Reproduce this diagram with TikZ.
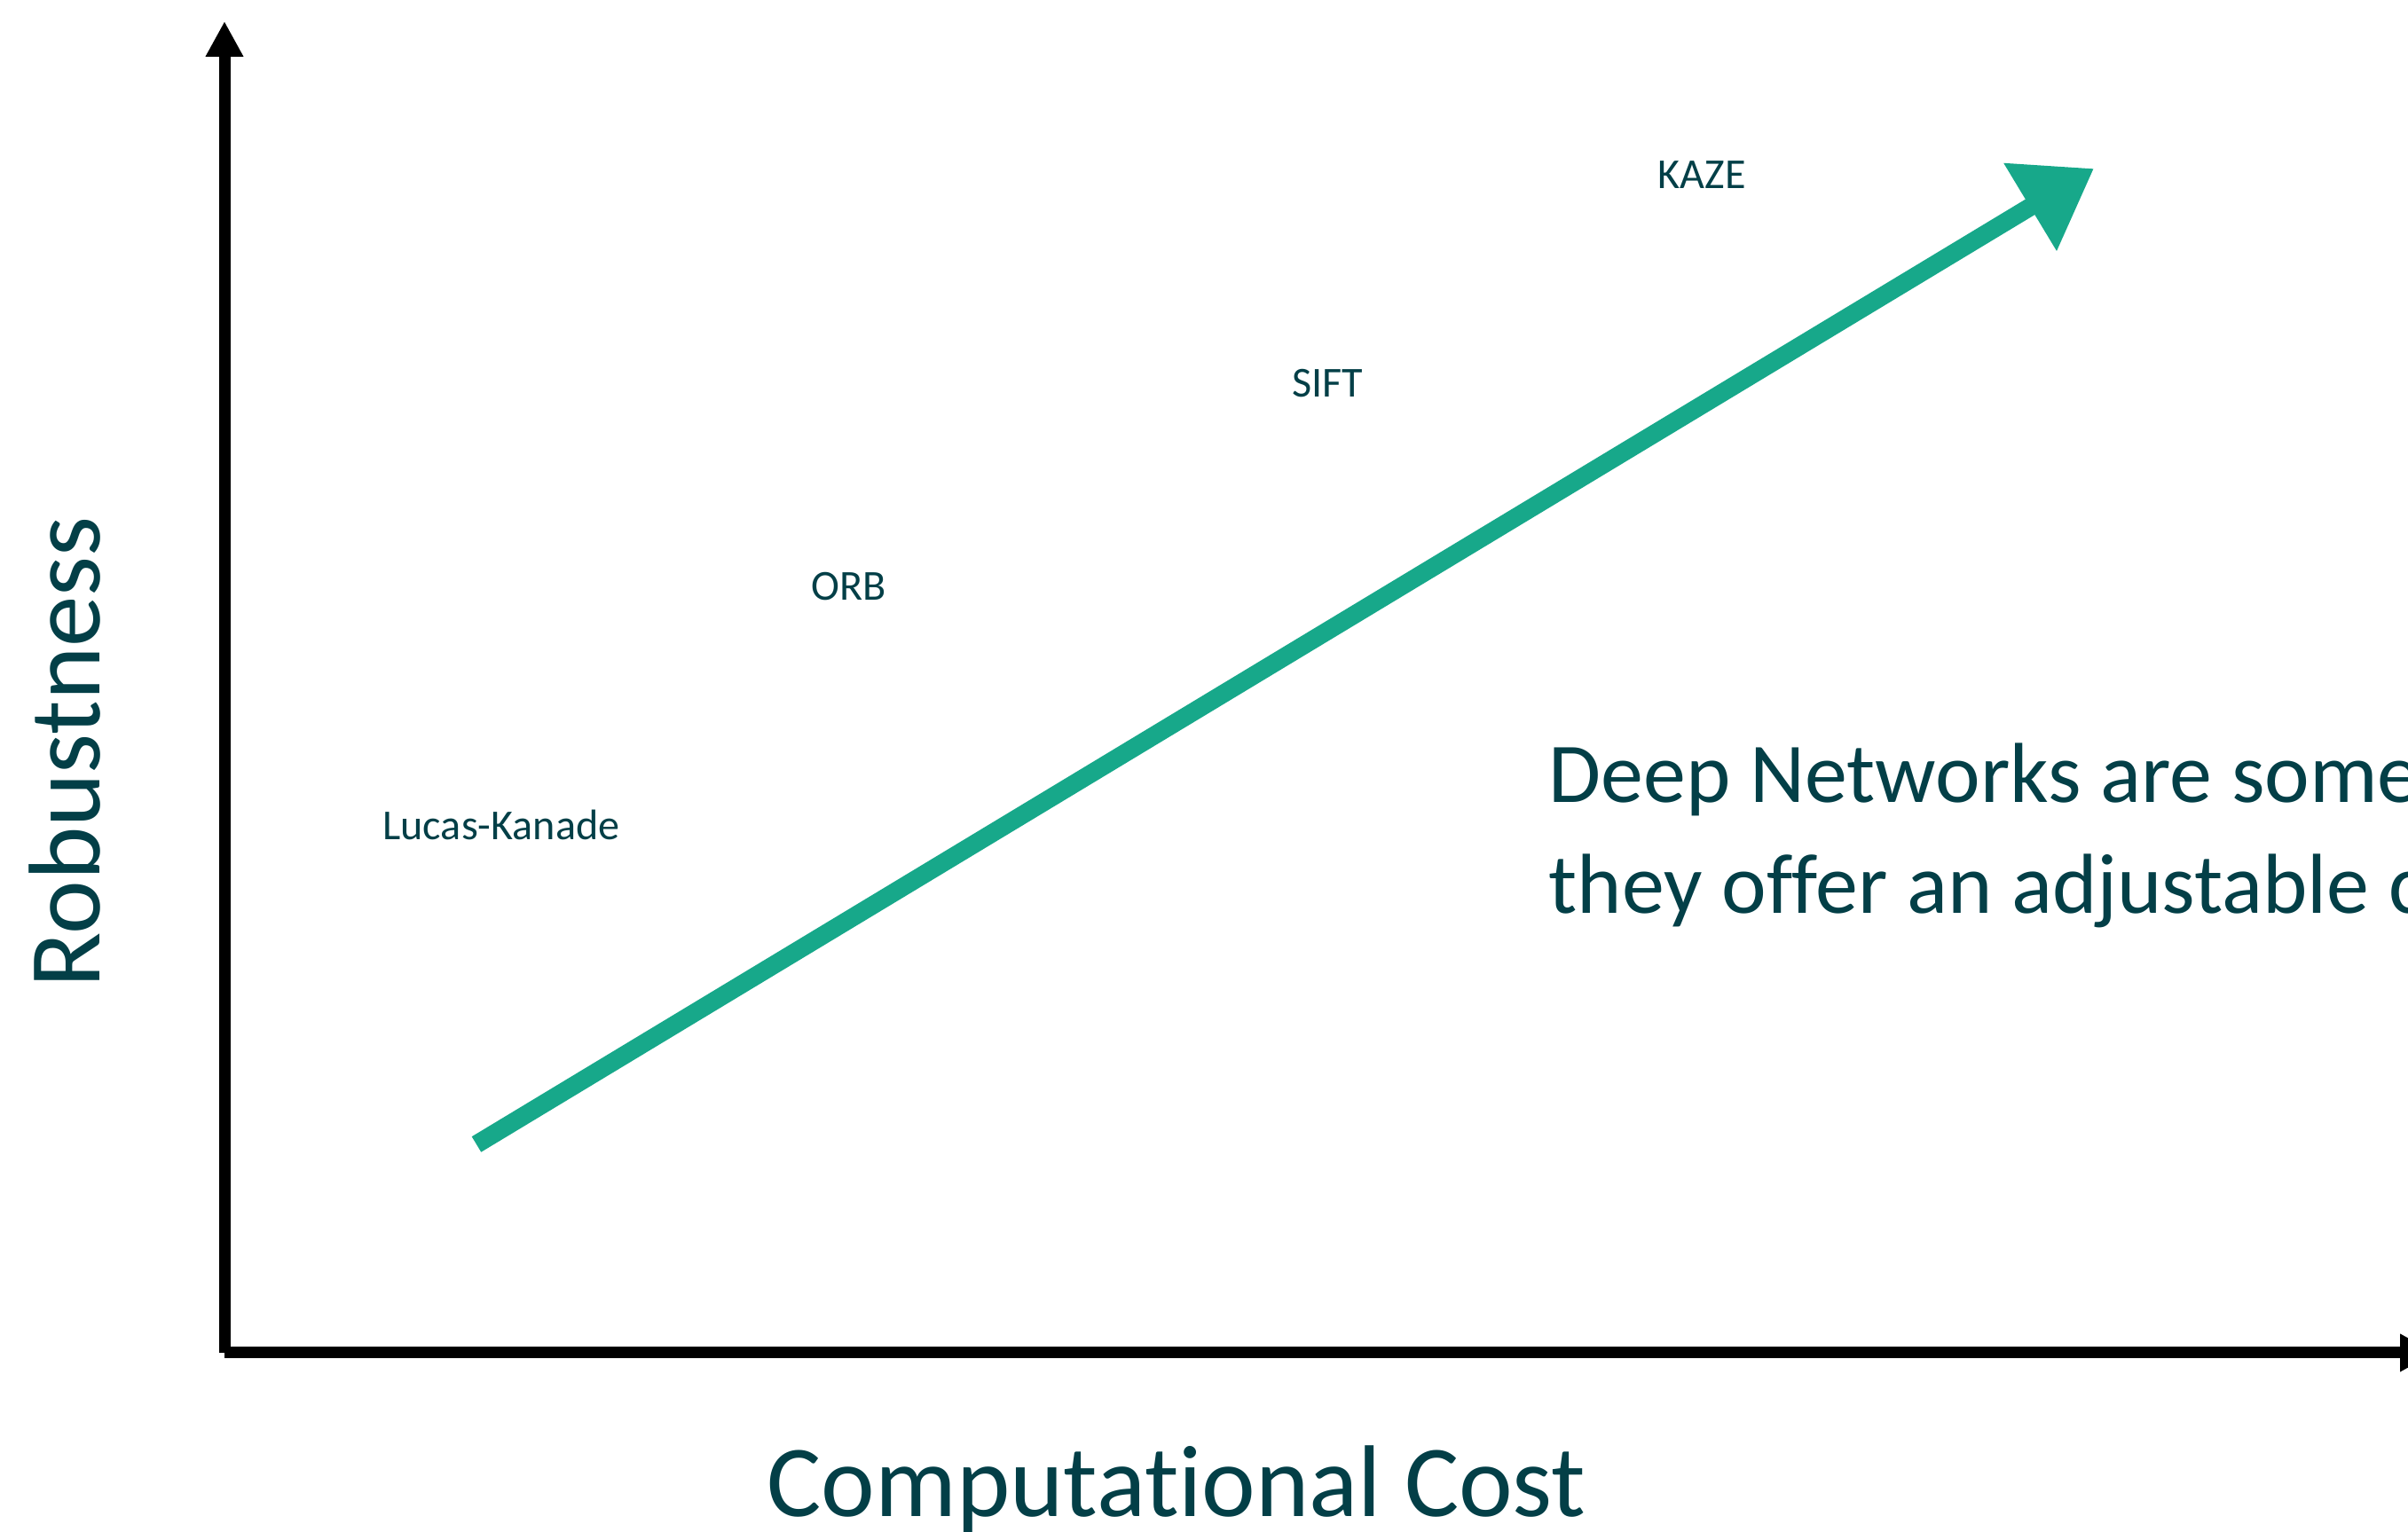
\documentclass[tikz,border=0pt]{standalone}
\usepackage{fontspec}
\setmainfont{Carlito}[Ligatures=NoCommon]
\usetikzlibrary{arrows.meta}
\definecolor{inkteal}{HTML}{033F47}
\definecolor{chalkgreen}{HTML}{17A88A}

\begin{document}
\begin{tikzpicture}
	\tikzset{axis/.style={line width=3.7pt,-{Triangle[length=0.4cm,width=0.4cm]}}}
	\tikzset{trend/.style={chalkgreen,line width=5.8pt,-{Triangle[length=0.84cm,width=1.1cm]}}}
	\tikzset{method/.style={inkteal,anchor=base,inner sep=0pt,font=\fontsize{13.7}{16}\selectfont}}
	\tikzset{axislabel/.style={inkteal,anchor=base,inner sep=0pt,font=\fontsize{32.7}{38}\selectfont}}
	\tikzset{note/.style={inkteal,anchor=base west,inner sep=0pt,font=\fontsize{27.3}{33}\selectfont}}

	\useasboundingbox (0,0) rectangle (27.14,17.27);
	\clip (0,0) rectangle (27.14,17.27);

	\coordinate (origin) at (2.53,2.02);
	\coordinate (ytop) at (2.53,17.03);
	\coordinate (xend) at (27.45,2.02);
	\draw[axis] (origin) -- (ytop);
	\draw[axis] (origin) -- (xend);

	\coordinate (low) at (5.37,4.37);
	\coordinate (high) at (23.60,15.37);
	\draw[trend] (low) -- (high);

	\node[method] (lk) at (5.65,7.80) {Lucas-Kanade};
	\node[method] (orb) at (9.57,10.50) {ORB};
	\node[method] (sift) at (14.96,12.79) {SIFT};
	\node[method] (kaze) at (19.18,15.14) {KAZE};

	\node[note] (deepa) at (17.45,8.22) {Deep Networks are some};
	\node[note] (deepb) at (17.45,6.97) {they offer an adjustable c};

	\node[axislabel] (cost) at (13.26,0.17) {Computational Cost};
	\node[axislabel,rotate=90] (robust) at (1.12,8.79) {Robustness};
\end{tikzpicture}
\end{document}
